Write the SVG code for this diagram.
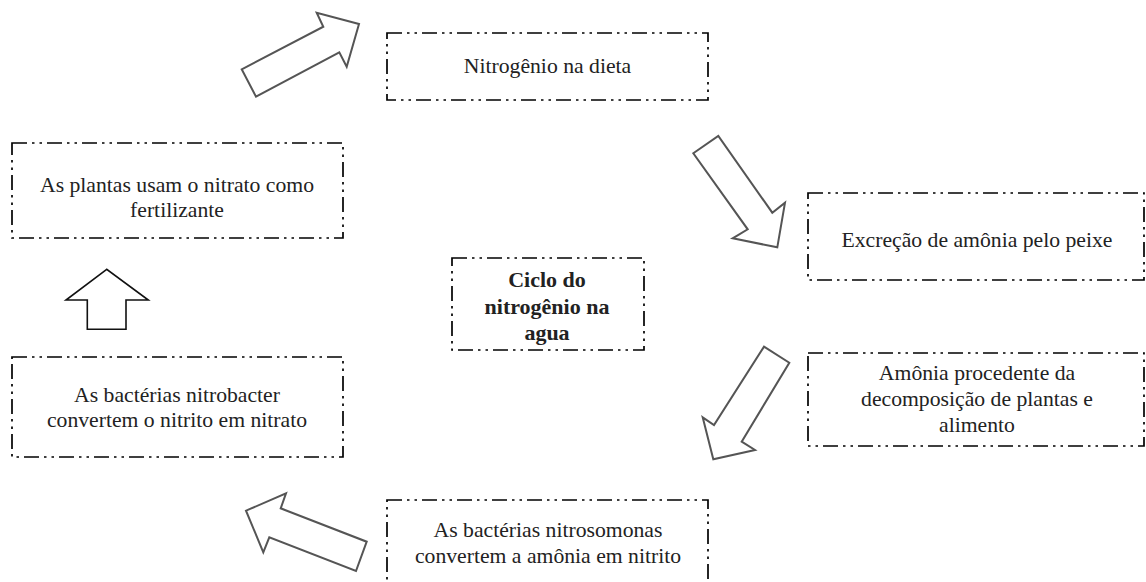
<svg xmlns="http://www.w3.org/2000/svg" width="1146" height="582" viewBox="0 0 1146 582">
<style>
.box{fill:none;stroke:#000;stroke-width:1.7;stroke-dasharray:15 5 2.5 5 2.5 5}
.t{font-family:"Liberation Serif","Times New Roman",serif;font-size:21.7px;fill:#222;text-anchor:middle}
.b{font-weight:bold;font-size:22px}
.arr{fill:#fff;stroke:#555;stroke-width:2;stroke-linejoin:miter}
.arrk{fill:#fff;stroke:#111;stroke-width:1.6}
</style>
<rect width="1146" height="582" fill="#fff"/>
<g id="connectors">
<polygon class="arr" points="241.7,69.3 256,96.7 339.3,52.3 346.7,66.7 359,24 316.7,12.7 323.3,26.7"/>
<polygon class="arr" points="693.3,153.3 718.3,136 772.3,212.7 785,202.7 777.3,247.3 732.7,238.3 747.7,229.3"/>
<polygon class="arr" points="764,346.7 789.3,362.7 741.7,441.7 755,450 713.3,459.3 702.7,417.3 714,425"/>
<polygon class="arr" points="366.7,541.7 356,571 269.3,537.3 263.3,552.3 246,510.7 286,493.3 280.7,508.3"/>
<polygon class="arrk" points="106.7,269.3 66,300 87.3,300 87.3,329.3 126,329.3 126,300 148.3,300"/>
</g>
<g id="n-dieta">
<rect class="box" x="387" y="33" width="321" height="67"/>
<text class="t" x="547.5" y="73">Nitrogênio na dieta</text>
</g>
<g id="n-excrecao">
<rect class="box" x="808" y="193" width="336" height="87"/>
<text class="t" x="977" y="247">Excreção de amônia pelo peixe</text>
</g>
<g id="n-decomposicao">
<rect class="box" x="808" y="353" width="336" height="93"/>
<text class="t" x="977" y="380">Amônia procedente da</text>
<text class="t" x="977" y="406">decomposição de plantas e</text>
<text class="t" x="977" y="432">alimento</text>
</g>
<g id="n-nitrosomonas">
<rect class="box" x="387" y="500" width="321" height="100"/>
<text class="t" x="548" y="537">As bactérias nitrosomonas</text>
<text class="t" x="548" y="563">convertem a amônia em nitrito</text>
</g>
<g id="n-nitrobacter">
<rect class="box" x="12" y="357" width="331" height="100"/>
<text class="t" x="177" y="402">As bactérias nitrobacter</text>
<text class="t" x="177" y="427">convertem o nitrito em nitrato</text>
</g>
<g id="n-plantas">
<rect class="box" x="12" y="143" width="331" height="95"/>
<text class="t" x="177" y="192">As plantas usam o nitrato como</text>
<text class="t" x="177" y="217">fertilizante</text>
</g>
<g id="n-ciclo">
<rect class="box" x="452" y="258" width="192" height="92"/>
<text class="t b" x="547" y="287">Ciclo do</text>
<text class="t b" x="547" y="314">nitrogênio na</text>
<text class="t b" x="547" y="340">agua</text>
</g>
</svg>
